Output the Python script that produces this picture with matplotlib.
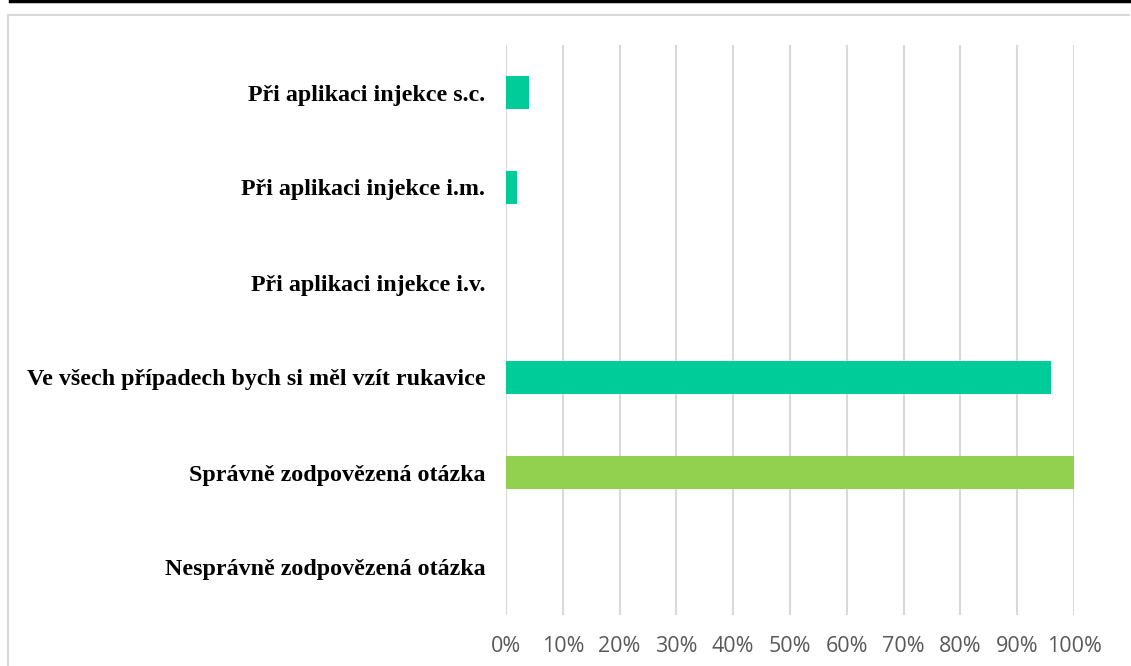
import matplotlib.pyplot as plt
from matplotlib.lines import Line2D
from matplotlib.ticker import FuncFormatter

labels = [
    "Při aplikaci injekce s.c.",
    "Při aplikaci injekce i.m.",
    "Při aplikaci injekce i.v.",
    "Ve všech případech bych si měl vzít rukavice",
    "Správně zodpovězená otázka",
    "Nesprávně zodpovězená otázka",
]
values = [4, 2, 0, 96, 100, 0]
colors = ["#00CC99", "#00CC99", "#00CC99", "#00CC99", "#92D050", "#92D050"]
ticks = list(range(0, 101, 10))

W, H = 1131, 666
fig = plt.figure(figsize=(W / 100, H / 100), dpi=100)

# plot area in pixel terms
left, right, top, bottom = 506, 1074, 45, 615
ax = fig.add_axes([left / W, 1 - bottom / H, (right - left) / W, (bottom - top) / H])

ypos = list(range(len(labels)))
ax.barh(ypos, values, height=0.35, color=colors, zorder=3)
ax.set_ylim(len(labels) - 0.5, -0.5)
ax.set_xlim(0, 100)
ax.set_xticks(ticks)
ax.xaxis.set_major_formatter(FuncFormatter(lambda v, p: f"{int(v)}%"))
ax.set_yticks(ypos)
ax.set_yticklabels(labels, fontfamily="Liberation Serif", fontweight="bold",
                   fontsize=17.3, color="black")
ax.grid(axis="x", color="#D9D9D9", linewidth=1.5, zorder=0)
for s in ax.spines.values():
    s.set_visible(False)
ax.tick_params(axis="y", length=0, pad=15)
ax.tick_params(axis="x", length=0, pad=15, labelsize=15.5, labelcolor="#595959")
for t in ax.get_xticklabels():
    t.set_fontfamily("Open Sans")

# chart frame and heavy top rule
fig.add_artist(Line2D([8 / W, 8 / W], [0, 1 - 15 / H], color="#D9D9D9", lw=1.5,
                      transform=fig.transFigure))
fig.add_artist(Line2D([8 / W, 1129 / W], [1 - 15 / H, 1 - 15 / H], color="#D9D9D9",
                      lw=1.5, transform=fig.transFigure))
fig.add_artist(Line2D([10 / W, 1], [1 - 1 / H, 1 - 1 / H], color="black", lw=2.5,
                      transform=fig.transFigure))

fig.savefig("out.png", dpi=100)
